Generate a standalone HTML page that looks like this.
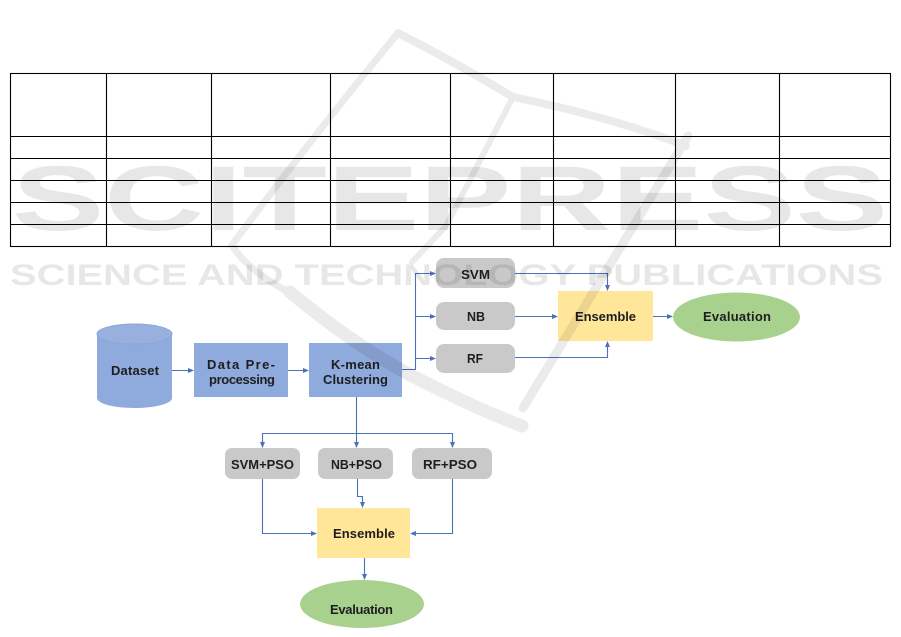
<!DOCTYPE html>
<html>
<head>
<meta charset="utf-8">
<style>
  html,body{margin:0;padding:0;background:#fff;}
  svg{display:block;}
  .t{font-family:"Liberation Sans",Arial,sans-serif;font-weight:bold;font-size:13px;fill:#1e1e1e;}
</style>
</head>
<body>
<svg width="901" height="637" viewBox="0 0 901 637" xmlns="http://www.w3.org/2000/svg">
  <defs>
    <marker id="ar" markerWidth="6" markerHeight="6" refX="5" refY="3" orient="auto" markerUnits="userSpaceOnUse">
      <path d="M0,0.5 L6,3 L0,5.5 Z" fill="#4a72b8"/>
    </marker>
  </defs>
  <rect width="901" height="637" fill="#fff"/>

  <!-- Table -->
  <g stroke="#000" stroke-width="1.1" fill="none">
    <rect x="10.5" y="73.5" width="880" height="173"/>
    <line x1="10" y1="136.5" x2="891" y2="136.5"/>
    <line x1="10" y1="158.5" x2="891" y2="158.5"/>
    <line x1="10" y1="180.5" x2="891" y2="180.5"/>
    <line x1="10" y1="202.5" x2="891" y2="202.5"/>
    <line x1="10" y1="224.5" x2="891" y2="224.5"/>
    <line x1="106.5" y1="73" x2="106.5" y2="247"/>
    <line x1="211.5" y1="73" x2="211.5" y2="247"/>
    <line x1="330.5" y1="73" x2="330.5" y2="247"/>
    <line x1="450.5" y1="73" x2="450.5" y2="247"/>
    <line x1="553.5" y1="73" x2="553.5" y2="247"/>
    <line x1="675.5" y1="73" x2="675.5" y2="247"/>
    <line x1="779.5" y1="73" x2="779.5" y2="247"/>
  </g>

  <!-- Flowchart shapes -->
  <rect x="97" y="334" width="75" height="64" fill="#8faadc"/>
  <ellipse cx="134.5" cy="398" rx="37.5" ry="10" fill="#8faadc"/>
  <ellipse cx="134.5" cy="334" rx="37.5" ry="10" fill="#98b0de" stroke="#8aa6d8" stroke-width="1"/>
  <rect x="194" y="343" width="94" height="54" fill="#8faadc"/>
  <rect x="309" y="343" width="93" height="54" fill="#8faadc"/>

  <rect x="436" y="258" width="79" height="30" rx="8" fill="#c9c9c9"/>
  <rect x="436" y="302" width="79" height="28" rx="8" fill="#c9c9c9"/>
  <rect x="436" y="344" width="79" height="29" rx="8" fill="#c9c9c9"/>
  <rect x="558" y="291" width="95" height="50" fill="#ffe699"/>
  <ellipse cx="736.5" cy="317" rx="63.5" ry="24.5" fill="#a9d18e"/>

  <rect x="225" y="448" width="75" height="31" rx="7" fill="#c9c9c9"/>
  <rect x="318" y="448" width="75" height="31" rx="7" fill="#c9c9c9"/>
  <rect x="412" y="448" width="80" height="31" rx="7" fill="#c9c9c9"/>
  <rect x="317" y="508" width="93" height="50" fill="#ffe699"/>
  <ellipse cx="362" cy="604" rx="62" ry="24" fill="#a9d18e"/>

  <!-- Connectors -->
  <g stroke="#4a72b8" stroke-width="1.1" fill="none">
    <path d="M172,370.5 H193" marker-end="url(#ar)"/>
    <path d="M288,370.5 H308" marker-end="url(#ar)"/>
    <path d="M402,369.5 H415.5 V273.5"/>
    <path d="M415,273.5 H435" marker-end="url(#ar)"/>
    <path d="M415,316.5 H435" marker-end="url(#ar)"/>
    <path d="M415,358.5 H435" marker-end="url(#ar)"/>
    <path d="M515,273.5 H607.5 V290" marker-end="url(#ar)"/>
    <path d="M515,316.5 H557" marker-end="url(#ar)"/>
    <path d="M515,357.5 H607.5 V342" marker-end="url(#ar)"/>
    <path d="M653,316.5 H672" marker-end="url(#ar)"/>

    <path d="M356.5,397 V447" marker-end="url(#ar)"/>
    <path d="M262.5,447 V433.5 H452.5 V447"/>
    <path d="M262.5,440 V447" marker-end="url(#ar)"/>
    <path d="M452.5,440 V447" marker-end="url(#ar)"/>
    <path d="M357.5,479 V496.5 H362.5 V507" marker-end="url(#ar)"/>
    <path d="M262.5,479 V533.5 H316" marker-end="url(#ar)"/>
    <path d="M452.5,479 V533.5 H411" marker-end="url(#ar)"/>
    <path d="M364.5,558 V579" marker-end="url(#ar)"/>
  </g>

  <!-- Labels -->
  <text class="t" x="111" y="375" textLength="48" lengthAdjust="spacing">Dataset</text>
  <text class="t" x="207" y="369" textLength="68" lengthAdjust="spacing">Data Pre-</text>
  <text class="t" x="209" y="384" textLength="66" lengthAdjust="spacing">processing</text>
  <text class="t" x="331" y="369" textLength="49" lengthAdjust="spacing">K-mean</text>
  <text class="t" x="323" y="384" textLength="65" lengthAdjust="spacing">Clustering</text>
  <text class="t" x="461" y="279" textLength="29" lengthAdjust="spacingAndGlyphs">SVM</text>
  <text class="t" x="467" y="321" textLength="18" lengthAdjust="spacingAndGlyphs">NB</text>
  <text class="t" x="467" y="363" textLength="16" lengthAdjust="spacingAndGlyphs">RF</text>
  <text class="t" x="575" y="321" textLength="61" lengthAdjust="spacing">Ensemble</text>
  <text class="t" x="703" y="321" textLength="68" lengthAdjust="spacing">Evaluation</text>
  <text class="t" x="231" y="469" textLength="63" lengthAdjust="spacingAndGlyphs">SVM+PSO</text>
  <text class="t" x="331" y="469" textLength="51" lengthAdjust="spacingAndGlyphs">NB+PSO</text>
  <text class="t" x="423" y="469" textLength="54" lengthAdjust="spacingAndGlyphs">RF+PSO</text>
  <text class="t" x="333" y="538" textLength="62" lengthAdjust="spacing">Ensemble</text>
  <text class="t" x="330" y="614" textLength="63" lengthAdjust="spacing">Evaluation</text>

  <!-- Watermark overlay -->
  <g opacity="0.075">
    <g stroke="#000" fill="none" stroke-linecap="round">
      <path d="M398,33 Q310,140 232,245 Q245,268 288,292" stroke-width="7"/>
      <path d="M398,33 Q455,62 513,97 Q615,118 686,146" stroke-width="8"/>
      <path d="M513,97 L446,226 L412,262" stroke-width="6"/>
      <path d="M688,136 L523,408" stroke-width="9"/>
      <path d="M290,292 Q360,350 420,380 Q480,410 522,426" stroke-width="13"/>
    </g>
  </g>
  <g opacity="0.09">
    <text x="12" y="230" textLength="876" lengthAdjust="spacingAndGlyphs" style="font-family:'Liberation Sans',Arial,sans-serif;font-weight:bold;font-size:92px;" fill="#000">SCITEPRESS</text>
    <text x="10" y="285" textLength="873" lengthAdjust="spacingAndGlyphs" style="font-family:'Liberation Sans',Arial,sans-serif;font-weight:bold;font-size:30px;" fill="#000">SCIENCE AND TECHNOLOGY PUBLICATIONS</text>
  </g>
</svg>
</body>
</html>
